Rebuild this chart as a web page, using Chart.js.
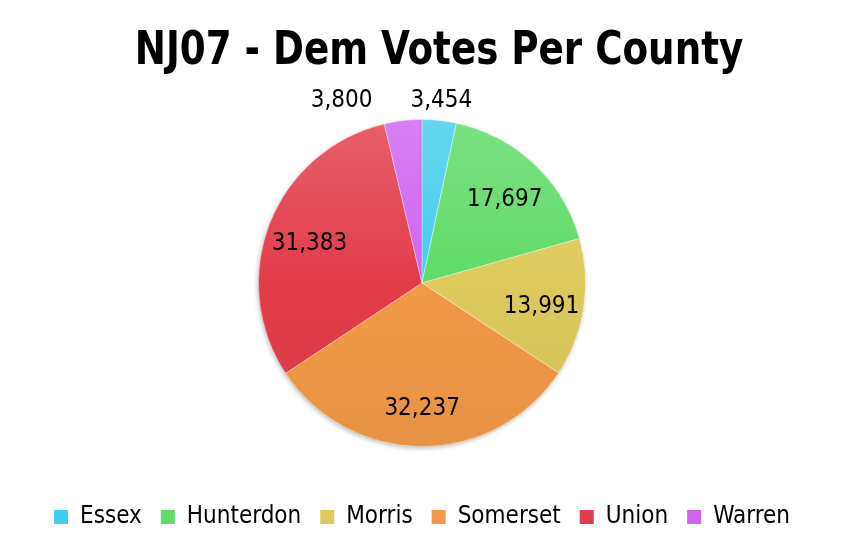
<!DOCTYPE html>
<html>
<head>
<meta charset="utf-8">
<script src="https://cdn.jsdelivr.net/npm/chart.js@4"></script>
<style>
html,body{margin:0;padding:0;background:#fff;}
#wrap{width:844px;height:548px;}
</style>
</head>
<body>
<div id="wrap"><canvas id="c" width="844" height="548"></canvas></div>
<script>
const titleText = 'NJ07 - Dem Votes Per County';
const counties = ['Essex', 'Hunterdon', 'Morris', 'Somerset', 'Union', 'Warren'];
const votes = [3454, 17697, 13991, 32237, 31383, 3800];
const baseColors = ['#45CDEC', '#5FDB68', '#DDC95C', '#F39A48', '#E23C4A', '#D063F0'];

const FONT = '"DejaVu Sans Condensed", "DejaVu Sans", sans-serif';

function shade(hex, amt) {
  const n = parseInt(hex.slice(1), 16);
  let r = (n >> 16) & 255, g = (n >> 8) & 255, b = n & 255;
  if (amt >= 0) { r += (255 - r) * amt; g += (255 - g) * amt; b += (255 - b) * amt; }
  else { r *= 1 + amt; g *= 1 + amt; b *= 1 + amt; }
  return 'rgb(' + Math.round(r) + ',' + Math.round(g) + ',' + Math.round(b) + ')';
}

function gradFill(ctx) {
  const chart = ctx.chart;
  const area = chart.chartArea;
  const base = baseColors[ctx.dataIndex];
  if (!area) return base;
  const g = chart.ctx.createLinearGradient(0, area.top, 0, area.bottom);
  g.addColorStop(0, shade(base, 0.18));
  g.addColorStop(0.5, base);
  g.addColorStop(1, shade(base, -0.05));
  return g;
}

const titlePlugin = {
  id: 'bigTitle',
  afterDraw(chart) {
    const ctx = chart.ctx;
    ctx.save();
    ctx.font = 'bold 46px ' + FONT;
    ctx.fillStyle = '#000';
    ctx.textAlign = 'center';
    ctx.textBaseline = 'middle';
    ctx.translate(chart.width / 2 + 17, 52);
    ctx.scale(0.9, 1);
    ctx.fillText(titleText, 0, 0);
    ctx.restore();
  }
};

const labelPlugin = {
  id: 'sliceLabels',
  afterDatasetsDraw(chart) {
    const meta = chart.getDatasetMeta(0);
    const ds = chart.data.datasets[0];
    const total = ds.data.reduce((a, b) => a + b, 0);
    const ctx = chart.ctx;
    ctx.save();
    ctx.font = '24px ' + FONT;
    ctx.fillStyle = '#000';
    ctx.textBaseline = 'middle';
    ctx.textAlign = 'center';
    const items = [];
    meta.data.forEach((arc, i) => {
      const p = arc.getProps(['x', 'y', 'startAngle', 'endAngle', 'outerRadius'], true);
      const mid = (p.startAngle + p.endAngle) / 2;
      const frac = ds.data[i] / total;
      const outside = frac < 0.06;
      const rr = outside ? p.outerRadius * 1.12 : p.outerRadius * 0.74;
      const text = ds.data[i].toLocaleString('en-US');
      const w = ctx.measureText(text).width;
      items.push({ x: p.x + Math.cos(mid) * rr, y: p.y + Math.sin(mid) * rr + (outside ? 0 : 5), text, w, outside });
    });
    const outs = items.filter(it => it.outside).sort((a, b) => a.x - b.x);
    for (let k = outs.length - 2; k >= 0; k--) {
      const a = outs[k], b = outs[k + 1];
      const minGap = 38;
      const aRight = a.x + a.w / 2, bLeft = b.x - b.w / 2;
      if (Math.abs(a.y - b.y) < 30 && bLeft - aRight < minGap) {
        a.x = bLeft - minGap - a.w / 2;
      }
    }
    items.forEach(it => ctx.fillText(it.text, it.x, it.y));
    ctx.restore();
  }
};

const shadowPlugin = {
  id: 'pieShadow',
  beforeDatasetsDraw(chart) {
    const arc = chart.getDatasetMeta(0).data[0];
    if (!arc) return;
    const p = arc.getProps(['x', 'y', 'outerRadius'], true);
    const ctx = chart.ctx;
    ctx.save();
    ctx.shadowColor = 'rgba(0,0,0,0.30)';
    ctx.shadowBlur = 5;
    ctx.shadowOffsetX = -1;
    ctx.shadowOffsetY = 2;
    ctx.fillStyle = '#ffffff';
    ctx.beginPath();
    ctx.arc(p.x, p.y, p.outerRadius - 0.5, 0, Math.PI * 2);
    ctx.fill();
    ctx.restore();
  }
};

new Chart(document.getElementById('c'), {
  type: 'pie',
  data: {
    labels: counties,
    datasets: [{
      data: votes,
      backgroundColor: gradFill,
      borderColor: 'rgba(255,255,255,0.35)',
      borderWidth: 1
    }]
  },
  plugins: [shadowPlugin, labelPlugin, titlePlugin],
  options: {
    responsive: false,
    animation: false,
    layout: { padding: { top: 119, bottom: 9, left: 0, right: 0 } },
    plugins: {
      tooltip: { enabled: false },
      title: { display: false },
      legend: {
        display: true,
        position: 'bottom',
        title: { display: true, text: '', font: { size: 1, lineHeight: 1 }, padding: { top: 38, bottom: 0 } },
        labels: {
          color: '#000',
          font: { family: FONT, size: 24 },
          boxWidth: 14,
          boxHeight: 14,
          padding: 19,
          generateLabels(chart) {
            return chart.data.labels.map((l, i) => ({
              text: l,
              fillStyle: baseColors[i],
              strokeStyle: baseColors[i],
              lineWidth: 0,
              fontColor: '#000',
              hidden: false,
              index: i
            }));
          }
        }
      }
    }
  }
});
</script>
</body>
</html>
